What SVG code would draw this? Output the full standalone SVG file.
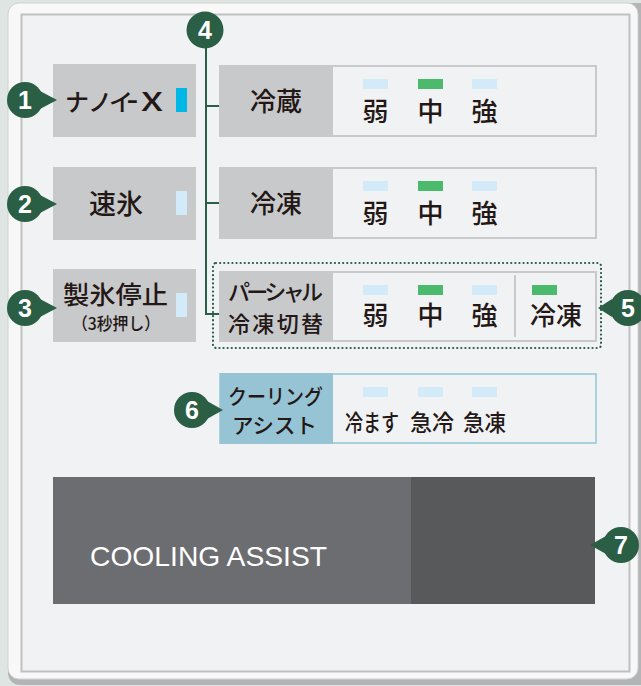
<svg xmlns="http://www.w3.org/2000/svg" width="641" height="686" viewBox="0 0 641 686">
<defs>
<style>
.jp{font-family:"Noto Sans CJK JP","Noto Sans",sans-serif;font-weight:500;fill:#231815}
.lbl{fill:#c8c9cb}
.pnl{fill:#f1f2f4;stroke:#c8c9cb;stroke-width:2}
.g{fill:#4cba6c}
.b{fill:#d3eaf8}
.badge{fill:#2a5e45}
.num{font-family:"Liberation Sans",Arial,sans-serif;font-weight:bold;font-size:25px;fill:#ffffff;text-anchor:middle}
.c{text-anchor:middle}
.conn{fill:none;stroke:#2a5e45;stroke-width:2}
.disp{font-family:"Liberation Sans",Arial,sans-serif;font-size:28px;fill:#ffffff}
</style>
</defs>
<rect x="0" y="0" width="641" height="686" fill="#dfe5e2"/>
<!-- frame -->
<rect x="8" y="3" width="650" height="682" rx="12" fill="#b3b4b6"/>
<rect x="8" y="3" width="630" height="676" rx="11" fill="#f8f8f9" stroke="#d0d2d1" stroke-width="1"/>
<rect x="21.5" y="14.5" width="608" height="657" fill="#f1f2f4" stroke="#bfc0c2" stroke-width="2"/>

<!-- connectors -->
<g id="connectors">
<path class="conn" d="M206,48 V314 H219"/>
<path class="conn" d="M206,106 H219"/>
<path class="conn" d="M206,203 H219"/>
</g>

<!-- left buttons -->
<g id="nanoe">
<rect class="lbl" x="53" y="64" width="143" height="73"/>
<text class="jp" x="65 88 109" y="111" font-size="24">ナノイ</text>
<text class="jp" transform="translate(127,111) scale(0.45,1)" font-size="24">ー</text>
<text class="jp" x="141" y="111" font-size="26" font-weight="400" textLength="22" lengthAdjust="spacingAndGlyphs">X</text>
<rect x="176" y="88" width="11" height="24" fill="#00b8e6"/>
</g>
<g id="sokuhyo">
<rect class="lbl" x="53" y="167" width="143" height="73"/>
<text class="jp c" x="116" y="214" font-size="27">速氷</text>
<rect class="b" x="176" y="191" width="11" height="24"/>
</g>
<g id="seihyo">
<rect class="lbl" x="53" y="269" width="143" height="73"/>
<text class="jp" x="63" y="304" font-size="25" textLength="105" lengthAdjust="spacingAndGlyphs">製氷停止</text>
<text class="jp" x="72" y="330" font-size="17" textLength="88" lengthAdjust="spacingAndGlyphs">（3秒押し）</text>
<rect class="b" x="176" y="293" width="11" height="24"/>
</g>

<!-- row 1 -->
<g id="reizo">
<rect class="pnl" x="220" y="66" width="376" height="70"/>
<rect class="lbl" x="219" y="65" width="114" height="72"/>
<text class="jp c" x="276" y="111" font-size="26">冷蔵</text>
<rect class="b" x="363" y="79" width="25" height="10"/>
<rect class="g" x="418" y="79" width="25" height="10"/>
<rect class="b" x="472" y="79" width="25" height="10"/>
<text class="jp c" x="375.5" y="121" font-size="26">弱</text>
<text class="jp c" x="430.5" y="121" font-size="26">中</text>
<text class="jp c" x="484.5" y="121" font-size="26">強</text>
</g>

<!-- row 2 -->
<g id="reito">
<rect class="pnl" x="220" y="168" width="376" height="70"/>
<rect class="lbl" x="219" y="167" width="114" height="72"/>
<text class="jp c" x="276" y="213" font-size="26">冷凍</text>
<rect class="b" x="363" y="181" width="25" height="10"/>
<rect class="g" x="418" y="181" width="25" height="10"/>
<rect class="b" x="472" y="181" width="25" height="10"/>
<text class="jp c" x="375.5" y="223" font-size="26">弱</text>
<text class="jp c" x="430.5" y="223" font-size="26">中</text>
<text class="jp c" x="484.5" y="223" font-size="26">強</text>
</g>

<!-- row 3 partial -->
<g id="partial">
<rect x="213" y="263" width="388" height="85" rx="3" fill="none" stroke="#2a5e45" stroke-width="2.2" stroke-dasharray="0.1 4" stroke-linecap="round"/>
<rect class="pnl" x="220" y="272" width="376" height="69"/>
<rect class="lbl" x="219" y="271" width="114" height="71"/>
<line x1="515" y1="275" x2="515" y2="337" stroke="#c8c9cb" stroke-width="2"/>
<text class="jp" x="228" y="300" font-size="22" textLength="95" lengthAdjust="spacing">パーシャル</text>
<text class="jp" x="228" y="332" font-size="22" textLength="95" lengthAdjust="spacing">冷凍切替</text>
<rect class="b" x="363" y="285" width="25" height="10"/>
<rect class="g" x="418" y="285" width="25" height="10"/>
<rect class="b" x="472" y="285" width="25" height="10"/>
<rect class="g" x="532" y="285" width="25" height="10"/>
<text class="jp c" x="375.5" y="325" font-size="26">弱</text>
<text class="jp c" x="430.5" y="325" font-size="26">中</text>
<text class="jp c" x="484.5" y="325" font-size="26">強</text>
<text class="jp c" x="556" y="325" font-size="26">冷凍</text>
</g>

<!-- row 4 cooling assist -->
<g id="cooling">
<rect x="220" y="374" width="376" height="69" fill="#f1f2f4" stroke="#a8d0dd" stroke-width="2"/>
<rect x="220" y="373" width="113" height="71" fill="#96c4d5"/>
<text class="jp" x="228" y="404" font-size="21" textLength="95" lengthAdjust="spacingAndGlyphs">クーリング</text>
<text class="jp" x="232" y="433" font-size="21" textLength="85" lengthAdjust="spacingAndGlyphs">アシスト</text>
<rect class="b" x="363" y="387" width="25" height="10"/>
<rect class="b" x="418" y="387" width="25" height="10"/>
<rect class="b" x="472" y="387" width="25" height="10"/>
<text class="jp" x="345" y="431" font-size="23" textLength="54" lengthAdjust="spacingAndGlyphs">冷ます</text>
<text class="jp" x="410" y="431" font-size="23" textLength="44" lengthAdjust="spacingAndGlyphs">急冷</text>
<text class="jp" x="463" y="431" font-size="23" textLength="43" lengthAdjust="spacingAndGlyphs">急凍</text>
</g>

<!-- display -->
<g id="display">
<rect x="53" y="477" width="358" height="127" fill="#6c6d71"/>
<rect x="411" y="477" width="184" height="127" fill="#58595b"/>
<text class="disp" x="90" y="566" textLength="237" lengthAdjust="spacingAndGlyphs">COOLING ASSIST</text>
</g>

<!-- badges -->
<g id="badge1"><path class="badge" d="M40,91 L57,100 L40,109 Z"/><circle class="badge" cx="25" cy="100" r="18"/><text class="num" x="25" y="109">1</text></g>
<g id="badge2"><path class="badge" d="M40,195 L57,204 L40,213 Z"/><circle class="badge" cx="25" cy="204" r="18"/><text class="num" x="25" y="213">2</text></g>
<g id="badge3"><path class="badge" d="M40,299 L57,308 L40,317 Z"/><circle class="badge" cx="25" cy="308" r="18"/><text class="num" x="25" y="317">3</text></g>
<g id="badge4"><circle class="badge" cx="205" cy="30" r="18.5"/><text class="num" x="205" y="39">4</text></g>
<g id="badge5"><path class="badge" d="M612,299 L598,308 L612,317 Z"/><circle class="badge" cx="628" cy="308" r="18"/><text class="num" x="628" y="317">5</text></g>
<g id="badge6"><path class="badge" d="M207,401 L223,410 L207,419 Z"/><circle class="badge" cx="192" cy="410" r="18"/><text class="num" x="192" y="419">6</text></g>
<g id="badge7"><path class="badge" d="M606,536 L590,545 L606,554 Z"/><circle class="badge" cx="621" cy="545" r="18"/><text class="num" x="621" y="554">7</text></g>
</svg>
